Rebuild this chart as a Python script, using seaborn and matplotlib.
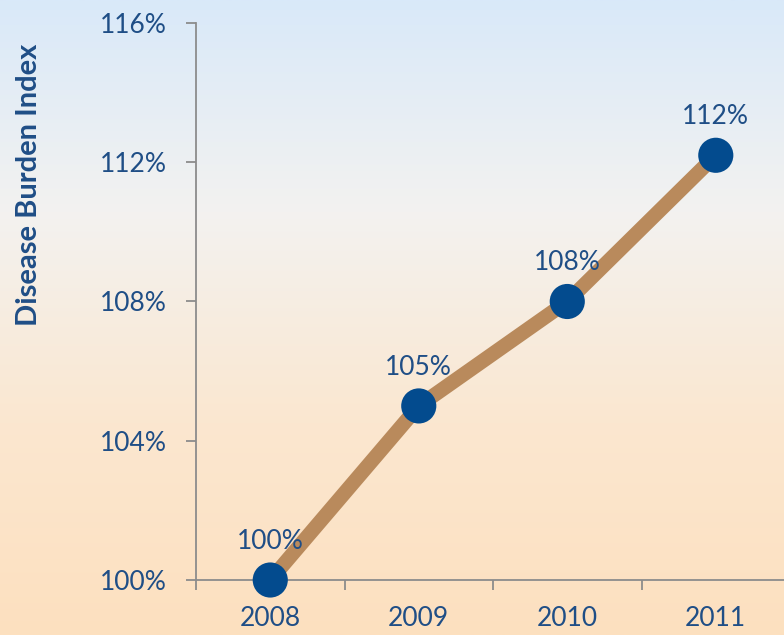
import numpy as np
import pandas as pd
import matplotlib
matplotlib.use("Agg")
import matplotlib.pyplot as plt
from matplotlib.colors import LinearSegmentedColormap
import seaborn as sns

years = ["2008", "2009", "2010", "2011"]
values = [100.0, 105.0, 108.0, 112.2]
point_labels = ["100%", "105%", "108%", "112%"]
ytick_values = [100, 104, 108, 112, 116]
ytick_labels = ["100%", "104%", "108%", "112%", "116%"]
ylabel = "Disease Burden Index"

sns.set_theme(style="white")
plt.rcParams['font.family'] = ['Lato', 'DejaVu Sans']

TXT = "#1f4e86"
LINE = "#b98a5c"
MARK = "#034b8e"
SPINE = "#8c8c8c"

fig = plt.figure(figsize=(7.84, 6.35), dpi=100)

# background gradient
bg = fig.add_axes([0, 0, 1, 1], zorder=0)
cmap = LinearSegmentedColormap.from_list("bg", ["#d9e9f9", "#f3f2f0", "#fbe7d0", "#fde0bf"])
grad = np.linspace(0, 1, 256).reshape(-1, 1)
bg.imshow(grad, aspect="auto", cmap=cmap, extent=[0, 1, 0, 1], origin="upper")
bg.set_axis_off()

ax = fig.add_axes([0.25, 0.0866, 0.7577, 0.8772], zorder=1)
ax.patch.set_alpha(0)

df = pd.DataFrame({"x": np.arange(len(years)), "year": years, "value": values})
sns.lineplot(data=df, x="x", y="value", ax=ax, color=LINE, linewidth=10.5,
             sort=False, zorder=2, solid_capstyle="butt")
sns.scatterplot(data=df, x="x", y="value", ax=ax, color=MARK, s=640,
                edgecolor="none", zorder=3, legend=False, clip_on=False)

for xi, v, lab in zip(df["x"], values, point_labels):
    ax.annotate(lab, (xi, v), xytext=(0, 28), textcoords="offset points",
                ha="center", va="center", fontsize=19, color=TXT, zorder=4)

ax.set_xlim(-0.5, len(years) - 0.5)
ax.set_ylim(100, 116)
ax.set_yticks(ytick_values)
ax.set_yticklabels(ytick_labels)
ax.set_xticks(np.arange(-0.5, len(years), 1.0))
ax.set_xticklabels([])
ax.set_xticks(np.arange(len(years)), minor=True)
ax.set_xticklabels(years, minor=True)

ax.tick_params(axis="y", which="major", direction="out", length=7, width=1.3,
               color=SPINE, labelsize=19, labelcolor=TXT, pad=14, left=True)
ax.tick_params(axis="x", which="major", direction="out", length=7, width=1.3,
               color=SPINE, bottom=True)
ax.tick_params(axis="x", which="minor", length=0, labelsize=19, labelcolor=TXT,
               pad=19, bottom=True)

for s in ["top", "right"]:
    ax.spines[s].set_visible(False)
for s in ["left", "bottom"]:
    ax.spines[s].set_color(SPINE)
    ax.spines[s].set_linewidth(1.3)

ax.set_xlabel("")
ax.set_ylabel(ylabel, fontsize=21, fontweight="bold", color=TXT)
ax.yaxis.set_label_coords(-0.259, 0.709)

fig.savefig("out.png", dpi=100)
